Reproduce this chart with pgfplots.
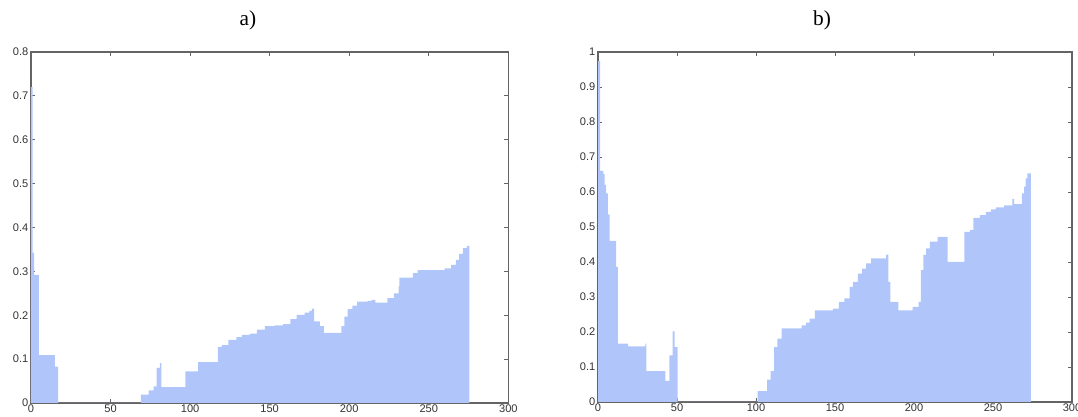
\documentclass[border=0pt]{standalone}
\usepackage{pgfplots}
\pgfplotsset{compat=1.18}
\usepackage{fontspec}
\setmainfont{Liberation Serif}
\newfontfamily\tickfont{Liberation Sans}
\definecolor{barblue}{RGB}{176,198,250}
\definecolor{axgray}{RGB}{100,100,100}
\definecolor{lblgray}{RGB}{50,50,50}
\pgfplotsset{
  mstyle/.style={
    scale only axis,
    axis line style={axgray, line width=0.8pt},
    tick style={axgray, line width=0.6pt},
    major tick length=3pt,
    tick align=inside,
    xtick pos=both, ytick pos=both,
    xticklabel pos=lower, yticklabel pos=left,
    tick label style={font=\tickfont\fontsize{8.3}{9}\selectfont, text=lblgray},
    /pgf/number format/assume math mode=true,
    xmin=0, xmax=300,
    xtick={0,50,...,300},
    ymin=0,
    xticklabel style={yshift=2pt},
    yticklabel style={xshift=1.5pt},
    clip=true,
  }
}
\begin{document}
\begin{tikzpicture}
\useasboundingbox (0,0) rectangle (808.5pt,312.75pt);
\begin{axis}[mstyle, anchor=south west, at={(23.25pt,10.5pt)},
  width=358pt, height=263.25pt,
  ymax=0.8, ytick={0,0.1,...,0.8}]
\addplot[const plot mark left, fill=barblue, draw=none] coordinates {
(0,0.72) (1,0.342) (2,0.292) (5,0.109) (15,0.083) (17,0) (69,0.019) (74,0.029)
(77,0.038) (79,0.080) (81,0.091) (82,0.036) (97,0.072) (105,0.093) (117.5,0.128)
(120,0.132) (124,0.144) (129,0.150) (132.5,0.155) (137.5,0.158) (142,0.167)
(147,0.175) (153,0.177) (158.5,0.180) (163,0.191) (167,0.201) (172,0.206)
(175,0.210) (176.5,0.215) (178,0.186) (181.5,0.175) (184,0.160) (195,0.175)
(197,0.197) (199,0.214) (202,0.222) (205,0.231) (211.5,0.233) (214,0.235)
(216.5,0.229) (224,0.239) (228,0.250) (231,0.266) (231.5,0.286) (240,0.296)
(243,0.303) (260,0.307) (264,0.315) (267,0.326) (269,0.340) (271.5,0.353)
(274,0.358) (275.5,0.358)
} \closedcycle;
\end{axis}
\begin{axis}[mstyle, anchor=south west, at={(448.5pt,11.25pt)},
  width=355.5pt, height=262.5pt,
  ymax=1, ytick={0,0.1,...,1.0}]
\addplot[const plot mark left, fill=barblue, draw=none] coordinates {
(0,0.974) (1.3,0.66) (3.4,0.651) (4.2,0.62) (5.2,0.596) (6.3,0.536) (7.3,0.46)
(11.5,0.386) (12.6,0.167) (19.1,0.159) (30,0.167) (30.6,0.088) (42.6,0.06)
(45.1,0.133) (47.2,0.202) (48.5,0.157) (50.4,0) (101,0.031) (107,0.064)
(109.3,0.088) (111.4,0.157) (113.5,0.181) (116.2,0.21) (128.8,0.219)
(131.5,0.227) (134,0.238) (137.2,0.262) (148.7,0.267) (152.5,0.286) (156,0.296)
(159.2,0.329) (161.3,0.343) (164.4,0.367) (167.2,0.381) (169.7,0.396)
(172.9,0.41) (182.3,0.421) (183.8,0.343) (185.1,0.286) (190.1,0.262)
(199.1,0.272) (202.9,0.286) (204.4,0.377) (205.9,0.42) (207.6,0.439)
(210.1,0.458) (215,0.472) (221.3,0.4) (231.8,0.486) (235.4,0.491) (237.5,0.526)
(241.7,0.534) (245.5,0.543) (248.6,0.55) (251.8,0.556) (257,0.562) (262.3,0.58)
(263.4,0.565) (268.2,0.596) (269.7,0.615) (270.7,0.639) (271.8,0.653) (274,0.653)
} \closedcycle;
\end{axis}
\node[font=\fontsize{16}{18}\selectfont, inner sep=0pt] at (186pt,297.75pt) {a)};
\node[font=\fontsize{16}{18}\selectfont, inner sep=0pt] at (616.5pt,297.75pt) {b)};
\end{tikzpicture}
\end{document}
